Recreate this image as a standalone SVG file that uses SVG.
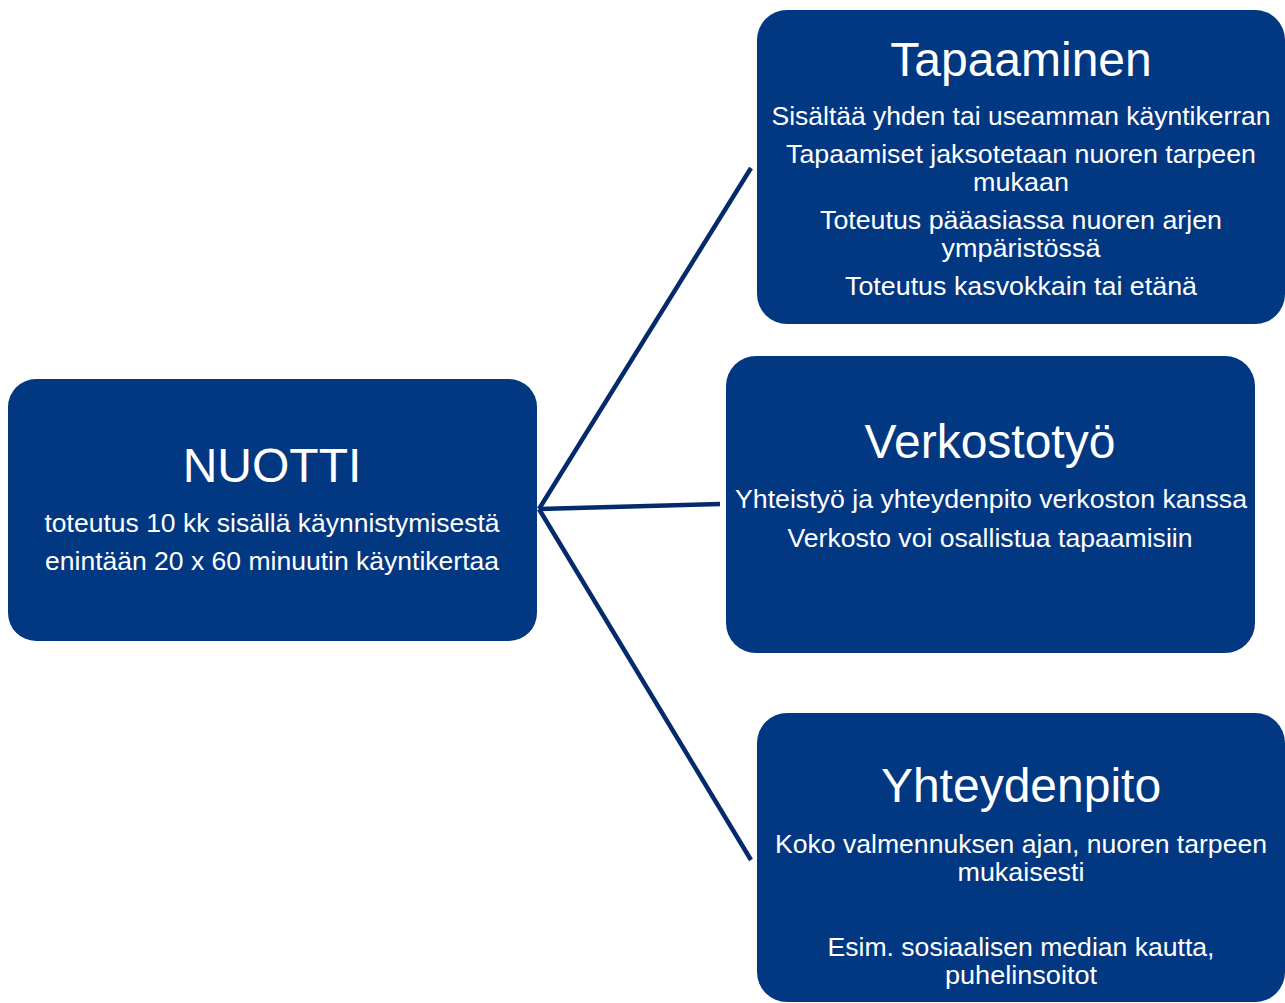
<svg xmlns="http://www.w3.org/2000/svg" width="1285" height="1003" viewBox="0 0 1285 1003">
<style>
.box{fill:#023781;}
.t{font-family:"Liberation Sans",Arial,sans-serif;fill:#ffffff;text-anchor:middle;}
.h{font-size:48px;}
.b{font-size:25px;}
.c{stroke:#052a6b;stroke-width:4.5;fill:none;stroke-linecap:butt;}
</style>
<rect width="1285" height="1003" fill="#ffffff"/>
<g id="connectors">
<line class="c" x1="539" y1="509" x2="751" y2="168"/>
<line class="c" x1="539" y1="509" x2="720" y2="504"/>
<line class="c" x1="539" y1="509" x2="751" y2="860"/>
</g>
<g id="nuotti">
<rect class="box" x="8" y="379" width="529" height="262" rx="28"/>
<text class="t h" x="272" y="482">NUOTTI</text>
<text class="t b" x="272" y="532" textLength="455" lengthAdjust="spacingAndGlyphs">toteutus 10 kk sisällä käynnistymisestä</text>
<text class="t b" x="272" y="570" textLength="454" lengthAdjust="spacingAndGlyphs">enintään 20 x 60 minuutin käyntikertaa</text>
</g>
<g id="tapaaminen">
<rect class="box" x="757" y="10" width="528" height="314" rx="30"/>
<text class="t h" x="1021" y="76">Tapaaminen</text>
<text class="t b" x="1021" y="125" textLength="499" lengthAdjust="spacingAndGlyphs">Sisältää yhden tai useamman käyntikerran</text>
<text class="t b" x="1021" y="162.5" textLength="470" lengthAdjust="spacingAndGlyphs">Tapaamiset jaksotetaan nuoren tarpeen</text>
<text class="t b" x="1021" y="190.5" textLength="96" lengthAdjust="spacingAndGlyphs">mukaan</text>
<text class="t b" x="1021" y="228.5" textLength="402" lengthAdjust="spacingAndGlyphs">Toteutus pääasiassa nuoren arjen</text>
<text class="t b" x="1021" y="256.5" textLength="159" lengthAdjust="spacingAndGlyphs">ympäristössä</text>
<text class="t b" x="1021" y="295" textLength="352" lengthAdjust="spacingAndGlyphs">Toteutus kasvokkain tai etänä</text>
</g>
<g id="verkostotyo">
<rect class="box" x="726" y="356" width="529" height="297" rx="30"/>
<text class="t h" x="990" y="458">Verkostotyö</text>
<text class="t b" x="991" y="508" textLength="512" lengthAdjust="spacingAndGlyphs">Yhteistyö ja yhteydenpito verkoston kanssa</text>
<text class="t b" x="990" y="547" textLength="405" lengthAdjust="spacingAndGlyphs">Verkosto voi osallistua tapaamisiin</text>
</g>
<g id="yhteydenpito">
<rect class="box" x="757" y="713" width="528" height="289" rx="30"/>
<text class="t h" x="1021" y="802">Yhteydenpito</text>
<text class="t b" x="1021" y="852.5" textLength="492" lengthAdjust="spacingAndGlyphs">Koko valmennuksen ajan, nuoren tarpeen</text>
<text class="t b" x="1021" y="880.5" textLength="127" lengthAdjust="spacingAndGlyphs">mukaisesti</text>
<text class="t b" x="1021" y="955.5" textLength="387" lengthAdjust="spacingAndGlyphs">Esim. sosiaalisen median kautta,</text>
<text class="t b" x="1021" y="983.5" textLength="152" lengthAdjust="spacingAndGlyphs">puhelinsoitot</text>
</g>
</svg>
